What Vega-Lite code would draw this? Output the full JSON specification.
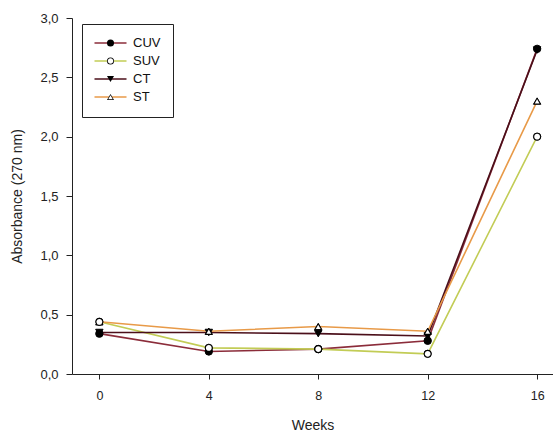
{
  "$schema": "https://vega.github.io/schema/vega-lite/v6.json",
  "width": 481,
  "height": 356,
  "autosize": {"type": "none"},
  "padding": {"left": 72, "top": 18, "right": 0, "bottom": 61},
  "background": "white",
  "config": {
    "view": {"stroke": null},
    "font": "Liberation Sans",
    "axis": {"grid": false, "domainColor": "#222", "tickColor": "#222", "labelColor": "#222", "titleColor": "#222", "labelFont": "Liberation Sans", "titleFont": "Liberation Sans", "titleFontWeight": "normal", "labelFontSize": 13, "titleFontSize": 14}
  },
  "data": {
    "values": [
      {"week": 0, "series": "CUV", "abs": 0.34},
      {"week": 4, "series": "CUV", "abs": 0.19},
      {"week": 8, "series": "CUV", "abs": 0.21},
      {"week": 12, "series": "CUV", "abs": 0.28},
      {"week": 16, "series": "CUV", "abs": 2.74},
      {"week": 0, "series": "SUV", "abs": 0.44},
      {"week": 4, "series": "SUV", "abs": 0.22},
      {"week": 8, "series": "SUV", "abs": 0.21},
      {"week": 12, "series": "SUV", "abs": 0.17},
      {"week": 16, "series": "SUV", "abs": 2.0},
      {"week": 0, "series": "CT", "abs": 0.35},
      {"week": 4, "series": "CT", "abs": 0.35},
      {"week": 8, "series": "CT", "abs": 0.34},
      {"week": 12, "series": "CT", "abs": 0.32},
      {"week": 16, "series": "CT", "abs": 2.73},
      {"week": 0, "series": "ST", "abs": 0.44},
      {"week": 4, "series": "ST", "abs": 0.36},
      {"week": 8, "series": "ST", "abs": 0.40},
      {"week": 12, "series": "ST", "abs": 0.36},
      {"week": 16, "series": "ST", "abs": 2.30}
    ]
  },
  "encoding": {
    "x": {"field": "week", "type": "quantitative", "title": "Weeks",
      "scale": {"domain": [-1, 16.58], "nice": false, "zero": false},
      "axis": {"values": [0, 4, 8, 12, 16], "tickSize": 5, "labelPadding": 10, "titlePadding": 17, "labelFlush": false, "labelFontSize": 12.5}},
    "y": {"field": "abs", "type": "quantitative", "title": "Absorbance (270 nm)",
      "scale": {"domain": [0, 3], "nice": false},
      "axis": {"values": [0, 0.5, 1, 1.5, 2, 2.5, 3], "tickSize": 6, "labelPadding": 8, "titlePadding": 15, "titleFontSize": 14,
        "labelExpr": "replace(format(datum.value, '.1f'), '.', ',')"}}
  },
  "resolve": {"scale": {"shape": "independent"}, "legend": {"shape": "independent"}},
  "layer": [
    {
      "mark": {"type": "line", "strokeWidth": 1.6},
      "encoding": {
        "stroke": {"field": "series", "type": "nominal",
          "scale": {"domain": ["CUV", "SUV", "CT", "ST"], "range": ["#8b2c3a", "#c2cc55", "#4b0f1a", "#e89a48"]},
          "legend": {"orient": "none", "legendX": 10, "legendY": 6, "title": null,
            "symbolType": "M-4,0H4", "symbolSize": 64, "symbolStrokeWidth": 1.6, "symbolOffset": 9.5,
            "labelFont": "Liberation Sans", "labelFontSize": 13, "labelColor": "#111", "labelOffset": 16,
            "rowPadding": 4, "padding": 12.5, "strokeColor": "#222", "fillColor": "white"}}
      }
    },
    {
      "mark": {"type": "point", "filled": true, "fill": "black", "stroke": "black", "strokeWidth": 1, "size": 55, "opacity": 1},
      "encoding": {
        "shape": {"field": "series", "type": "nominal",
          "scale": {"domain": ["CUV", "SUV", "CT", "ST"], "range": ["circle", "circle", "triangle-down", "triangle-up"]},
          "legend": {"orient": "none", "legendX": 10, "legendY": 6, "title": null,
            "symbolSize": 50, "symbolFillColor": "black", "symbolStrokeColor": "black", "symbolStrokeWidth": 1, "symbolOffset": 9.5,
            "labelFont": "Liberation Sans", "labelFontSize": 13, "labelColor": "transparent", "labelOffset": 16,
            "rowPadding": 4, "padding": 12.5}}
      }
    },
    {
      "mark": {"type": "point", "filled": true, "fill": "white", "strokeWidth": 0, "size": 55, "opacity": 1},
      "encoding": {
        "shape": {"field": "series", "type": "nominal",
          "scale": {"domain": ["CUV", "SUV", "CT", "ST"], "range": ["M0,0", "M-0.78,0A0.78,0.78,0,1,1,0.78,0A0.78,0.78,0,1,1,-0.78,0Z", "M0,0", "M0,-0.46L-0.65,0.66L0.65,0.66Z"]},
          "legend": {"orient": "none", "legendX": 10, "legendY": 6, "title": null,
            "symbolSize": 50, "symbolFillColor": "white", "symbolStrokeWidth": 1, "symbolOffset": 9.5,
            "labelFont": "Liberation Sans", "labelFontSize": 13, "labelColor": "transparent", "labelOffset": 16,
            "rowPadding": 4, "padding": 12.5}}
      }
    }
  ]
}
